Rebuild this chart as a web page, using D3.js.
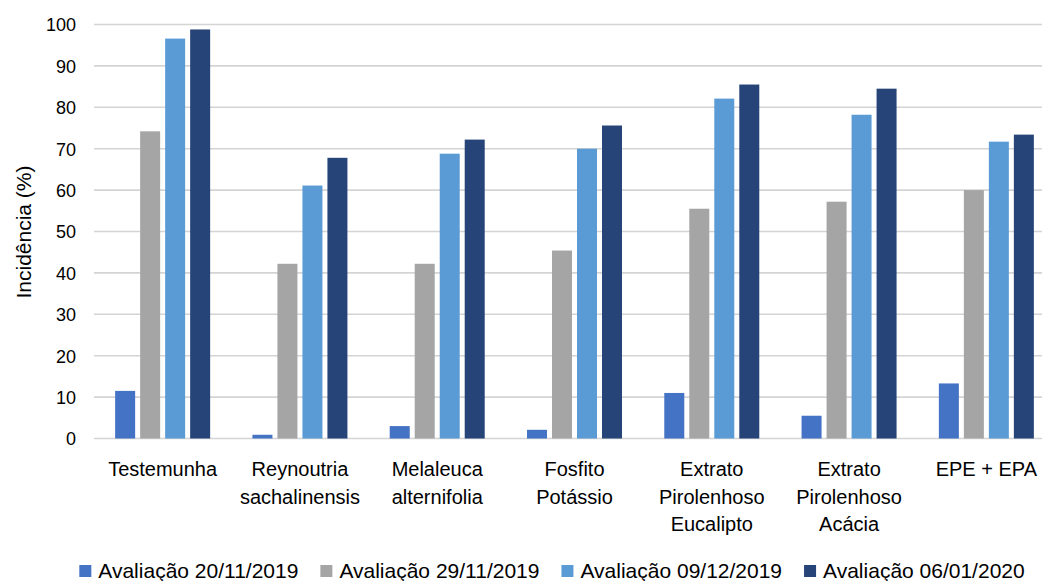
<!DOCTYPE html>
<html>
<head>
<meta charset="utf-8">
<script src="https://cdn.jsdelivr.net/npm/d3@7"></script>
<style>
  html, body { margin: 0; padding: 0; background: #fff; }
  svg { display: block; }
  text { font-family: "Liberation Sans", Arial, sans-serif; fill: #000; }
</style>
</head>
<body>
<svg id="chart" width="1042" height="581"></svg>
<script>
// Tratamentos (categorias do eixo x), com quebras de linha
const categories = [
  ["Testemunha"],
  ["Reynoutria", "sachalinensis"],
  ["Melaleuca", "alternifolia"],
  ["Fosfito", "Potássio"],
  ["Extrato", "Pirolenhoso", "Eucalipto"],
  ["Extrato", "Pirolenhoso", "Acácia"],
  ["EPE + EPA"]
];

// Datas de avaliação (séries)
const series = [
  "Avaliação 20/11/2019",
  "Avaliação 29/11/2019",
  "Avaliação 09/12/2019",
  "Avaliação 06/01/2020"
];

// Incidência (%) por tratamento, uma lista por avaliação
const aval20112019 = [11.5, 0.9, 3.0, 2.1, 11.0, 5.5, 13.3];
const aval29112019 = [74.2, 42.2, 42.2, 45.4, 55.5, 57.2, 60.0];
const aval09122019 = [96.6, 61.1, 68.8, 70.0, 82.1, 78.2, 71.7];
const aval06012020 = [98.8, 67.8, 72.2, 75.6, 85.5, 84.5, 73.4];

const yTicks = [0, 10, 20, 30, 40, 50, 60, 70, 80, 90, 100];

const colors = ["#4472C4", "#A5A5A5", "#5B9BD5", "#264478"];
const values = [aval20112019, aval29112019, aval09122019, aval06012020];

const svg = d3.select("#chart");

const plot = { left: 94, right: 1055, top: 24.5, bottom: 438.5 };
const catKeys = categories.map(c => c.join(" "));

const y = d3.scaleLinear().domain([0, 100]).range([plot.bottom, plot.top]);
const x0 = d3.scaleBand().domain(catKeys).range([plot.left, plot.right]);
const groupW = 100;
const x1 = d3.scaleBand().domain(series).range([0, groupW])
  .paddingInner(0.2).paddingOuter(0.1);
const groupOffset = (x0.bandwidth() - groupW) / 2;

// Linhas de grade horizontais
svg.append("g")
  .selectAll("line")
  .data(yTicks)
  .join("line")
  .attr("x1", plot.left)
  .attr("x2", plot.right)
  .attr("y1", d => y(d))
  .attr("y2", d => y(d))
  .attr("stroke", "#D4D4D4")
  .attr("stroke-width", 1.6);

// Rótulos do eixo y
const yAxis = d3.axisLeft(y).tickValues(yTicks).tickSize(0).tickPadding(0);
const gy = svg.append("g")
  .attr("transform", `translate(76,0)`)
  .call(yAxis);
gy.select(".domain").remove();
gy.selectAll("text")
  .style("font-family", '"Liberation Sans", Arial, sans-serif')
  .style("font-size", "18px")
  .attr("fill", "#000")
  .attr("dy", "0.36em");

// Barras
const groups = svg.append("g")
  .selectAll("g")
  .data(catKeys)
  .join("g")
  .attr("transform", d => `translate(${x0(d) + groupOffset},0)`);

groups.selectAll("rect")
  .data((d, i) => series.map((s, j) => ({ s, j, v: values[j][i] })))
  .join("rect")
  .attr("x", d => x1(d.s))
  .attr("width", x1.bandwidth())
  .attr("y", d => y(d.v))
  .attr("height", d => y(0) - y(d.v))
  .attr("fill", d => colors[d.j]);

// Rótulos das categorias (multilinha)
const xAxis = d3.axisBottom(x0).tickSize(0).tickFormat(() => "");
const gx = svg.append("g")
  .attr("transform", `translate(0,${plot.bottom})`)
  .call(xAxis);
gx.select(".domain").remove();

svg.append("g")
  .selectAll("text")
  .data(categories)
  .join("text")
  .attr("text-anchor", "middle")
  .style("font-size", "20px")
  .attr("x", (d, i) => x0(catKeys[i]) + x0.bandwidth() / 2)
  .attr("y", 476)
  .selectAll("tspan")
  .data(d => d)
  .join("tspan")
  .attr("x", function () { return d3.select(this.parentNode).attr("x"); })
  .attr("dy", (d, i) => i === 0 ? 0 : 27.5)
  .text(d => d);

// Título do eixo y
svg.append("text")
  .attr("transform", `translate(31,232) rotate(-90)`)
  .attr("text-anchor", "middle")
  .style("font-size", "21px")
  .text("Incidência (%)");

// Legenda
const legend = svg.append("g");
const items = legend.selectAll("g")
  .data(series)
  .join("g");
items.append("rect")
  .attr("width", 12)
  .attr("height", 12)
  .attr("y", 565)
  .attr("fill", (d, i) => colors[i]);
items.append("text")
  .attr("x", 19)
  .attr("y", 578)
  .style("font-size", "21px")
  .text(d => d);

const widths = [];
items.each(function () {
  const w = d3.select(this).select("text").node().getComputedTextLength();
  widths.push(19 + w);
});
const gap = 22;
const total = d3.sum(widths) + gap * (widths.length - 1);
let start = 552 - total / 2;
items.attr("transform", (d, i) => {
  const t = `translate(${start},0)`;
  start += widths[i] + gap;
  return t;
});
</script>
</body>
</html>
